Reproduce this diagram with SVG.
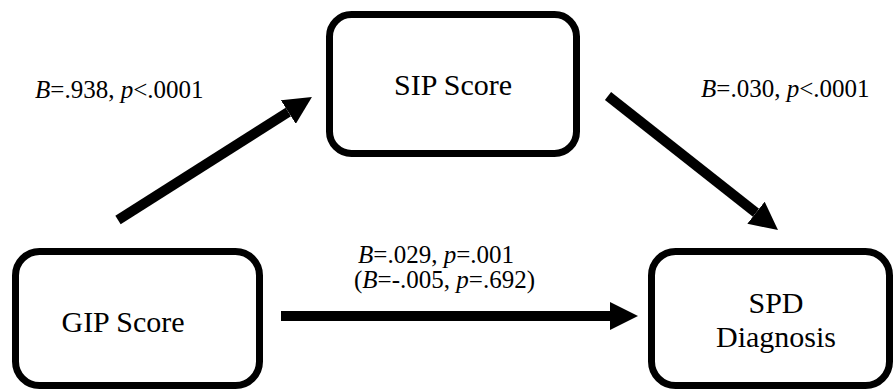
<svg xmlns="http://www.w3.org/2000/svg" width="893" height="390" viewBox="0 0 893 390">
<style>
.box{fill:#fff;stroke:#000;stroke-width:7}
.node{font-family:"Liberation Serif","Times New Roman",serif;font-size:30px;fill:#000;text-anchor:middle}
.lbl{font-family:"Liberation Serif","Times New Roman",serif;font-size:25px;fill:#000}
.conn{stroke:#000;stroke-width:10;fill:none}
</style>
<defs>
<marker id="ah" viewBox="0 0 28 28" markerWidth="28" markerHeight="28" refX="0" refY="14" orient="auto" markerUnits="userSpaceOnUse">
<path d="M0,0 L28,14 L0,28 z" fill="#000"/>
</marker>
</defs>
<rect width="893" height="390" fill="#fff"/>
<g id="sip">
<rect class="box" x="329.5" y="14.5" width="247" height="139" rx="22"/>
<text class="node" x="453" y="95">SIP Score</text>
</g>
<g id="gip">
<rect class="box" x="15.5" y="251.5" width="244" height="134" rx="24"/>
<text class="node" x="123" y="332">GIP Score</text>
</g>
<g id="spd">
<rect class="box" x="651.5" y="251.5" width="238" height="134" rx="24"/>
<text class="node" x="776" y="313">SPD</text>
<text class="node" x="776" y="347">Diagnosis</text>
</g>
<g id="connectors">
<path class="conn" d="M118,220 L288.3,112" marker-end="url(#ah)"/>
<path class="conn" d="M608,96 L756,212.7" marker-end="url(#ah)"/>
<path class="conn" d="M281,316 L610,316" marker-end="url(#ah)"/>
</g>
<g id="labels">
<text class="lbl" x="35" y="98"><tspan font-style="italic">B</tspan>=.938, <tspan font-style="italic">p</tspan>&lt;.0001</text>
<text class="lbl" x="701" y="97"><tspan font-style="italic">B</tspan>=.030, <tspan font-style="italic">p</tspan>&lt;.0001</text>
<text class="lbl" x="358" y="263"><tspan font-style="italic">B</tspan>=.029, <tspan font-style="italic">p</tspan>=.001</text>
<text class="lbl" x="354" y="288">(<tspan font-style="italic">B</tspan>=-.005, <tspan font-style="italic">p</tspan>=.692)</text>
</g>
</svg>
